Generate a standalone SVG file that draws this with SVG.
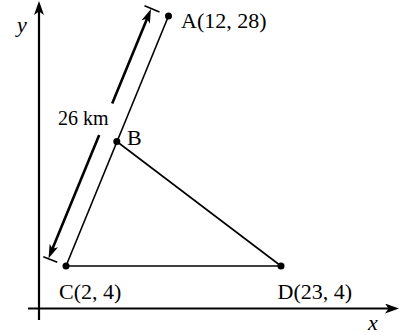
<svg xmlns="http://www.w3.org/2000/svg" width="399" height="335" viewBox="0 0 399 335">
<style>
text{font-family:"Liberation Serif","Times New Roman",serif;font-size:22px;fill:#000}
.it{font-style:italic}
.axis{stroke:#000;stroke-width:2.2;fill:none}
.edge{stroke:#000;stroke-width:1.6;fill:none}
.dim{stroke:#000;stroke-width:2.6;fill:none}
.tick{stroke:#000;stroke-width:1.6;fill:none}
.dot{fill:#000}
</style>
<defs>
<marker id="ah" viewBox="0 0 14 10" refX="6" refY="5" markerWidth="14" markerHeight="10" markerUnits="userSpaceOnUse" orient="auto">
<path d="M0,0 L14,5 L0,10 L3.5,5 Z" fill="#000"/>
</marker>
<marker id="dh" viewBox="0 0 14 10" refX="6" refY="5" markerWidth="14" markerHeight="10" markerUnits="userSpaceOnUse" orient="auto">
<path d="M0,0.5 L14,5 L0,9.5 L3.5,5 Z" fill="#000"/>
</marker>
</defs>
<g id="axes">
<line class="axis" x1="39" y1="320" x2="39" y2="9" marker-end="url(#ah)"/>
<line class="axis" x1="28" y1="308.5" x2="391" y2="308.5" marker-end="url(#ah)"/>
<text class="it" x="17" y="32">y</text>
<text class="it" x="368" y="330">x</text>
</g>
<g id="connectors">
<line class="edge" x1="168.5" y1="16" x2="66" y2="266"/>
<line class="edge" x1="66" y1="266" x2="281" y2="266"/>
<line class="edge" x1="116.8" y1="141.5" x2="281" y2="266"/>
</g>
<g id="dimension">
<line class="dim" x1="112.2" y1="103.5" x2="147.96" y2="16.41" marker-end="url(#dh)"/>
<line class="dim" x1="99.2" y1="135" x2="51.54" y2="251.1" marker-end="url(#dh)"/>
<line class="tick" x1="144.5" y1="5.8" x2="159.5" y2="12"/>
<line class="tick" x1="43.3" y1="256.7" x2="57.3" y2="262.3"/>
<text x="58" y="125" style="font-size:20px">26 km</text>
</g>
<g id="A">
<circle class="dot" cx="168.5" cy="16" r="3.5"/>
<text x="181" y="28">A(12, 28)</text>
</g>
<g id="B">
<circle class="dot" cx="116.8" cy="141.5" r="3.5"/>
<text x="127" y="145">B</text>
</g>
<g id="C">
<circle class="dot" cx="66" cy="266" r="3.5"/>
<text x="59" y="298.5">C(2, 4)</text>
</g>
<g id="D">
<circle class="dot" cx="281" cy="266" r="3.5"/>
<text x="277.5" y="299">D(23, 4)</text>
</g>
</svg>
